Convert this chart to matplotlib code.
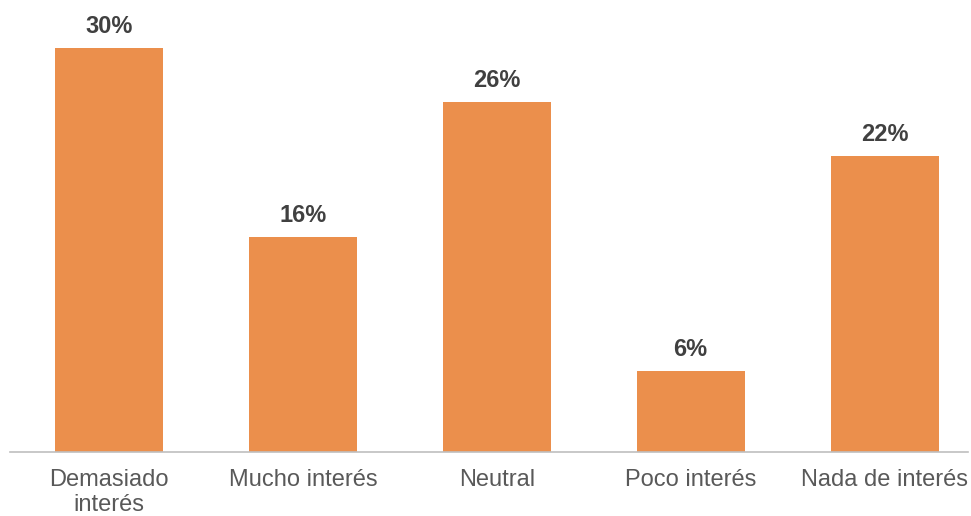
import matplotlib.pyplot as plt

categories = ["Demasiado\ninterés", "Mucho interés", "Neutral", "Poco interés", "Nada de interés"]
values = [30, 16, 26, 6, 22]
value_labels = ["30%", "16%", "26%", "6%", "22%"]

plt.rcParams['font.family'] = ['Liberation Sans', 'DejaVu Sans']

fig = plt.figure(figsize=(9.71, 5.16), dpi=100)
ax = fig.add_axes([10 / 971, 64 / 516, 958 / 971, 452 / 516])

x = range(len(categories))
bars = ax.bar(x, values, width=0.557, color="#EB8F4C")

for rect, lab in zip(bars, value_labels):
    ax.annotate(lab, (rect.get_x() + rect.get_width() / 2, rect.get_height()),
                xytext=(0, 7), textcoords="offset points",
                ha="center", va="bottom", fontsize=17, fontweight="bold",
                color="#404040")

ax.set_xlim(-0.51, 4.43)
ax.set_ylim(0, 33.56)

ax.set_xticks(list(x))
ax.set_xticklabels(categories, fontsize=17, color="#595959", linespacing=1.18)
ax.tick_params(axis="x", length=0, pad=12)
ax.set_yticks([])

for side in ["top", "left", "right"]:
    ax.spines[side].set_visible(False)
ax.spines["bottom"].set_color("#BFBFBF")
ax.spines["bottom"].set_linewidth(1.2)

fig.savefig("out.png", dpi=100)
